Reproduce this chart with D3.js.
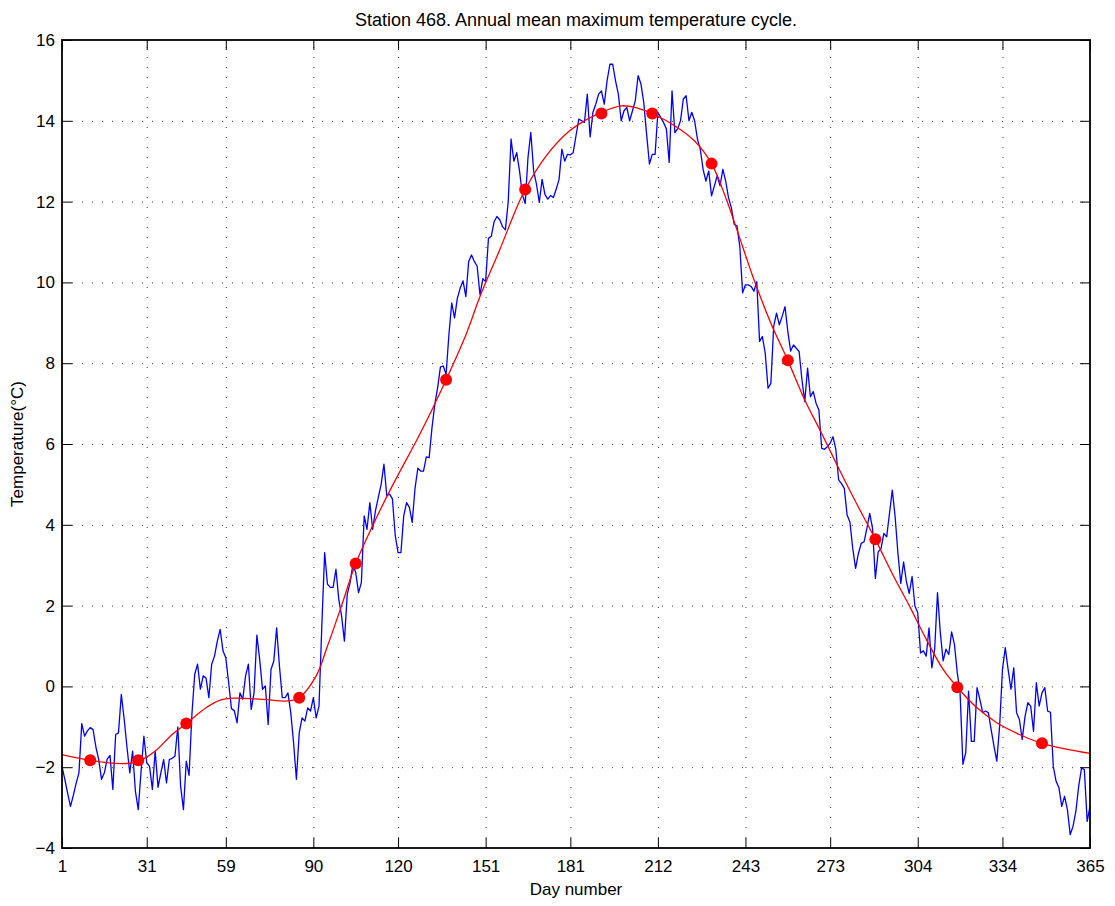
<!DOCTYPE html>
<html>
<head>
<meta charset="utf-8">
<script src="https://cdn.jsdelivr.net/npm/d3@7"></script>
<style>
    body { margin: 0; background: #fff; }
    text { font-family: "Liberation Sans", Arial, Helvetica, sans-serif; }
    .grid line { stroke: #000; stroke-opacity: 0.75; stroke-width: 1; stroke-dasharray: 1, 9; }
    .axis path, .axis line { stroke: #000; }
    .axis text { font-size: 17px; fill: #000; }
</style>
</head>
<body>
<div id="chart"></div>
<script>
// data
const DAILY_MAX = [
    -1.98, -2.3, -2.65, -2.97, -2.7, -2.4, -2.14, -0.92, -1.23, -1.1,
    -1.02, -1.07, -1.5, -1.81, -2.3, -2.14, -1.8, -1.71, -2.55, -1.19,
    -1.15, -0.2, -0.8, -1.5, -2.14, -1.6, -2.6, -3.05, -2.1, -1.23,
    -1.89, -1.98, -2.55, -1.6, -2.5, -2.14, -1.81, -2.39, -1.81, -1.78,
    -1.73, -1.0, -2.47, -3.05, -1.85, -2.2, -0.69, 0.3, 0.55, -0.07,
    0.26, 0.21, -0.28, 0.55, 0.75, 1.12, 1.41, 0.88, 0.71, 0.1,
    -0.55, -0.6, -0.9, -0.16, -0.32, 0.26, 0.55, -0.57, -0.16, 1.27,
    0.67, -0.07, 0.01, -0.94, 0.42, 0.63, 1.45, 0.5, -0.28, -0.28,
    -0.16, -0.65, -1.4, -2.3, -1.15, -0.78, -0.86, -0.53, -0.61, -0.28,
    -0.78, -0.49, 1.5, 3.31, 2.53, 2.45, 2.45, 2.9, 2.16, 1.74,
    1.12, 2.28, 2.57, 3.02, 2.82, 2.32, 2.57, 4.22, 3.89, 4.55,
    3.89, 4.35, 4.68, 5.0, 5.5, 4.72, 4.76, 4.64, 3.73, 3.31,
    3.31, 4.22, 4.55, 4.43, 4.06, 4.9, 5.4, 5.33, 5.33, 5.68,
    5.66, 6.4, 6.98, 7.39, 7.91, 7.93, 7.72, 8.71, 9.49, 9.12,
    9.61, 9.86, 10.04, 9.65, 10.52, 10.68, 10.52, 10.4, 9.7, 10.09,
    10.02, 11.09, 11.14, 11.5, 11.63, 11.55, 11.38, 11.3, 12.0, 13.55,
    13.0, 13.21, 12.76, 12.18, 11.95, 13.09, 13.71, 12.76, 12.43, 11.98,
    12.55, 12.18, 12.06, 12.15, 12.1, 12.31, 12.55, 13.3, 13.0, 13.17,
    13.16, 13.21, 13.63, 14.04, 14.0, 13.96, 14.66, 13.6, 14.21, 14.41,
    14.66, 14.74, 14.41, 14.99, 15.4, 15.4, 14.99, 14.66, 14.0, 14.25,
    14.33, 14.0, 14.25, 14.5, 15.12, 14.91, 14.45, 13.67, 12.93, 13.17,
    13.17, 14.21, 14.08, 13.96, 13.8, 12.97, 14.74, 13.71, 13.8, 14.0,
    14.54, 14.62, 14.0, 14.21, 14.0, 13.55, 13.3, 12.8, 12.51, 12.76,
    12.14, 12.39, 12.64, 12.39, 12.8, 12.51, 12.1, 11.85, 11.44, 11.4,
    10.89, 9.74, 9.94, 9.94, 9.9, 9.78, 10.02, 8.54, 8.66, 8.25,
    7.38, 7.5, 8.91, 9.24, 8.95, 9.16, 9.4, 8.79, 8.3, 8.45,
    8.37, 8.29, 7.59, 7.05, 7.88, 7.17, 7.3, 7.01, 6.84, 5.89,
    5.87, 5.93, 6.02, 6.18, 5.87, 5.11, 5.02, 4.9, 4.24, 4.07,
    3.41, 2.92, 3.29, 3.54, 3.58, 3.91, 4.28, 3.91, 2.67, 3.33,
    3.41, 3.79, 3.7, 4.28, 4.86, 4.2, 3.29, 2.55, 3.08, 2.59,
    2.3, 2.72, 1.99, 1.83, 0.83, 0.88, 0.75, 1.45, 0.46, 0.92,
    2.32, 1.33, 0.63, 0.92, 0.79, 1.35, 1.04, 0.34, -0.16, -1.93,
    -1.64, -0.12, -1.36, -1.36, -0.03, -0.32, -0.65, -0.61, -0.65, -1.07,
    -1.48, -1.85, -0.98, 0.42, 0.96, 0.42, -0.07, 0.46, -0.65, -0.82,
    -1.31, -0.74, -0.4, -0.49, -1.11, 0.09, -0.49, -0.16, -0.03, -0.61,
    -0.64, -1.98, -2.35, -2.51, -2.97, -2.72, -3.05, -3.67, -3.46, -3.09,
    -2.47, -2.02, -2.06, -3.34, -2.97
];

const FIT_DAYS = [1, 11, 22, 28, 34, 40, 45, 52, 57, 62, 72, 81, 85, 91, 95, 100, 105, 111, 118,
    127, 132, 137, 144, 149, 156, 162, 165, 172, 180, 186, 191, 199, 205, 210, 219, 225, 231, 236,
    240, 246, 252, 258, 264, 270, 276, 282, 289, 295, 301, 307, 313, 318, 325, 332, 340, 348, 357, 365];
const FIT_VALUES = [-1.69, -1.83, -1.91, -1.86, -1.6, -1.19, -0.92, -0.53, -0.34, -0.29, -0.32, -0.36, -0.28, 0.26, 1.0, 2.0, 3.04, 3.98, 4.97,
    6.15, 6.85, 7.59, 8.7, 9.65, 10.81, 11.85, 12.3, 13.09, 13.71, 14.0, 14.18, 14.37, 14.31, 14.18, 13.83, 13.5, 12.94, 12.1,
    11.3, 10.07, 8.99, 8.07, 7.09, 6.26, 5.4, 4.57, 3.64, 2.79, 2.0, 1.17, 0.42, -0.02, -0.53, -0.9, -1.19, -1.41, -1.56, -1.66];

// red markers
const DOT_DAYS = [11, 28, 45, 85, 105, 137, 165, 192, 210, 231, 258, 289, 318, 348];
const DOT_VALUES = [-1.83, -1.83, -0.92, -0.28, 3.04, 7.59, 12.3, 14.18, 14.18, 12.94, 8.07, 3.64, -0.02, -1.41];

// ticks
const X_TICKS = [1, 31, 59, 90, 120, 151, 181, 212, 243, 273, 304, 334, 365];
const Y_TICKS = [-4, -2, 0, 2, 4, 6, 8, 10, 12, 14, 16];

// constants
const WIDTH = 1115;
const HEIGHT = 906;
const PLOT_LEFT = 62;
const PLOT_RIGHT = 1090;
const PLOT_TOP = 40;
const PLOT_BOTTOM = 848;
const TICK_LEN = 10;
const DOT_RADIUS = 6;

const x = d3.scaleLinear().domain([1, 365]).range([PLOT_LEFT, PLOT_RIGHT]);
const y = d3.scaleLinear().domain([-4, 16]).range([PLOT_BOTTOM, PLOT_TOP]);

const svg = d3.select("#chart").append("svg")
    .attr("width", WIDTH)
    .attr("height", HEIGHT);

svg.append("rect")
    .attr("width", WIDTH)
    .attr("height", HEIGHT)
    .attr("fill", "#fff");

drawGrid();
drawSeries();
drawAxes();
drawLabels();

function drawGrid() {
    const grid = svg.append("g").attr("class", "grid");
    grid.selectAll(".vgrid")
        .data(X_TICKS.slice(1, -1))
        .enter().append("line")
        .attr("x1", d => x(d) + 0.5)
        .attr("x2", d => x(d) + 0.5)
        .attr("y1", PLOT_BOTTOM)
        .attr("y2", PLOT_TOP);
    grid.selectAll(".hgrid")
        .data(Y_TICKS.slice(1, -1))
        .enter().append("line")
        .attr("y1", d => y(d) + 0.5)
        .attr("y2", d => y(d) + 0.5)
        .attr("x1", PLOT_LEFT)
        .attr("x2", PLOT_RIGHT);
}

function drawSeries() {
    const plot = svg.append("g");

    const daily = d3.line()
        .x((d, i) => x(i + 1))
        .y(d => y(d));
    plot.append("path")
        .datum(DAILY_MAX)
        .attr("d", daily)
        .attr("fill", "none")
        .attr("stroke", "#0000ff")
        .attr("stroke-width", 1.3)
        .attr("stroke-linejoin", "round");

    const fit = d3.line()
        .x(d => x(d[0]))
        .y(d => y(d[1]))
        .curve(d3.curveCatmullRom.alpha(0.5));
    plot.append("path")
        .datum(FIT_DAYS.map((d, i) => [d, FIT_VALUES[i]]))
        .attr("d", fit)
        .attr("fill", "none")
        .attr("stroke", "#ff0000")
        .attr("stroke-width", 1.3);

    plot.selectAll(".dot")
        .data(DOT_DAYS.map((d, i) => [d, DOT_VALUES[i]]))
        .enter().append("circle")
        .attr("class", "dot")
        .attr("cx", d => x(d[0]))
        .attr("cy", d => y(d[1]))
        .attr("r", DOT_RADIUS)
        .attr("fill", "#ff0000");
}

function drawAxes() {
    // MATLAB style box: ticks pointing inwards on all four sides
    svg.append("g")
        .attr("class", "axis")
        .attr("transform", "translate(0," + PLOT_BOTTOM + ")")
        .call(d3.axisBottom(x).tickValues(X_TICKS).tickSizeInner(-TICK_LEN).tickSizeOuter(0).tickPadding(12));
    svg.append("g")
        .attr("class", "axis")
        .attr("transform", "translate(0," + PLOT_TOP + ")")
        .call(d3.axisTop(x).tickValues(X_TICKS).tickSizeInner(-TICK_LEN).tickSizeOuter(0).tickFormat(""));
    svg.append("g")
        .attr("class", "axis")
        .attr("transform", "translate(" + PLOT_LEFT + ",0)")
        .call(d3.axisLeft(y).tickValues(Y_TICKS).tickSizeInner(-TICK_LEN).tickSizeOuter(0).tickPadding(7)
            .tickFormat(d => d < 0 ? "\u2212" + Math.abs(d) : d));
    svg.append("g")
        .attr("class", "axis")
        .attr("transform", "translate(" + PLOT_RIGHT + ",0)")
        .call(d3.axisRight(y).tickValues(Y_TICKS).tickSizeInner(-TICK_LEN).tickSizeOuter(0).tickFormat(""));

    svg.selectAll(".axis .domain").remove();
    svg.append("rect")
        .attr("x", PLOT_LEFT)
        .attr("y", PLOT_TOP)
        .attr("width", PLOT_RIGHT - PLOT_LEFT)
        .attr("height", PLOT_BOTTOM - PLOT_TOP)
        .attr("fill", "none")
        .attr("stroke", "#000")
        .attr("stroke-width", 1.8);
}

function drawLabels() {
    svg.append("text")
        .attr("x", (PLOT_LEFT + PLOT_RIGHT) / 2)
        .attr("y", 26)
        .attr("text-anchor", "middle")
        .style("font-size", "18px")
        .text("Station 468. Annual mean maximum temperature cycle.");

    svg.append("text")
        .attr("x", (PLOT_LEFT + PLOT_RIGHT) / 2)
        .attr("y", 895)
        .attr("text-anchor", "middle")
        .style("font-size", "17px")
        .text("Day number");

    svg.append("text")
        .attr("transform", "translate(23," + (PLOT_TOP + PLOT_BOTTOM) / 2 + ") rotate(-90)")
        .attr("text-anchor", "middle")
        .style("font-size", "17px")
        .text("Temperature(\u00B0C)");
}
</script>
</body>
</html>
